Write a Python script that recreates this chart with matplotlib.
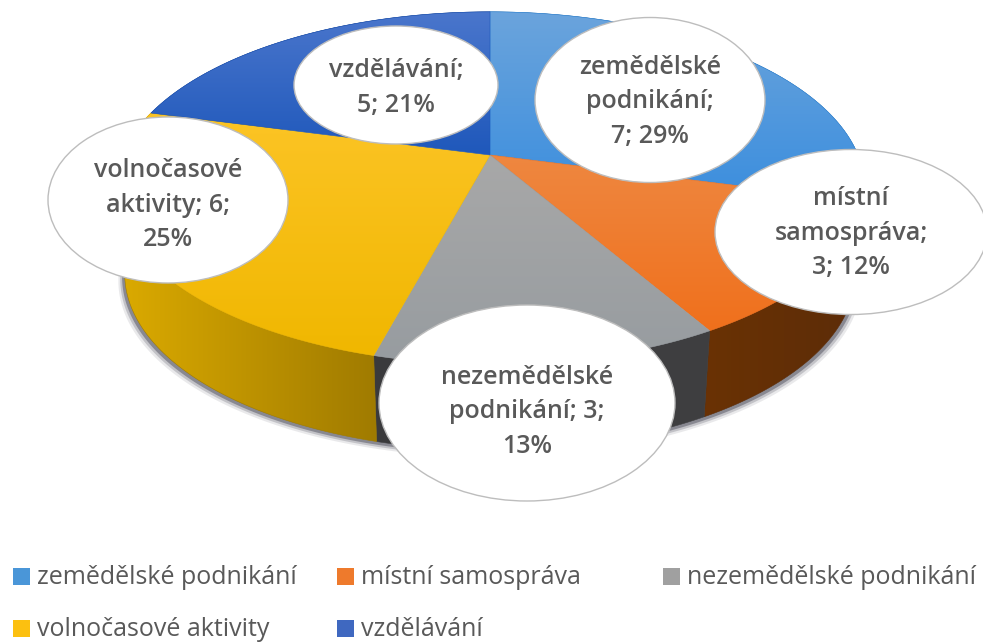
import numpy as np
import matplotlib
matplotlib.use('Agg')
from matplotlib import pyplot as plt
from matplotlib.patches import Ellipse, Polygon, Rectangle
from matplotlib.colors import LinearSegmentedColormap

categories = ['zemědělské podnikání', 'místní samospráva', 'nezemědělské podnikání',
              'volnočasové aktivity', 'vzdělávání']
values = [7, 3, 3, 6, 5]
percents = [29, 12, 13, 25, 21]
bubble_texts = ['zemědělské\npodnikání;\n7; 29%', 'místní\nsamospráva;\n3; 12%',
                'nezemědělské\npodnikání; 3;\n13%', 'volnočasové\naktivity; 6;\n25%',
                'vzdělávání;\n5; 21%']

# barvy: horni plocha (nahore, dole), bok (vlevo, vpravo), legenda
top_colors = [('#6ba4dc', '#3b8ede'), ('#ee8740', '#f0701c'), ('#a8a8a8', '#979ca0'),
              ('#fcc425', '#f0b700'), ('#4a76cc', '#1f58bb')]
side_colors = [('#1f5f96', '#1f5f96'), ('#6a3204', '#5c2c08'), ('#3a3a3c', '#3f3f41'),
               ('#dcab00', '#a07b00'), ('#1f3f80', '#1f3f80')]
legend_colors = ['#4a96d8', '#ee7a2c', '#a0a0a0', '#fcc010', '#3f68c0']

# poloha bublin v pixelech: stred x, stred y, sirka, vyska
bubbles = [(650, 100, 230, 165), (851, 232, 272, 165), (527, 403, 296, 196),
           (168, 200, 240, 166), (396, 85, 204, 118)]
text_y = [102, 233, 412, 205, 88]

legend_pos = [(13, 577), (337, 577), (663, 577), (13, 629), (337, 629)]

fig = plt.figure(figsize=(9.83, 6.43), dpi=100)
ax = fig.add_axes([0, 0, 1, 1])
ax.set_xlim(0, 983)
ax.set_ylim(643, 0)
ax.axis('off')

CX, CY, A, B, K = 490, 155, 368, 170, 0.1875
DEPTH, SCALE = 86, 0.975


def project(theta):
    # kruh -> perspektiva, theta od vrchu po smeru hodin
    x = np.sin(theta)
    y = np.cos(theta)
    w = 1 + K * y
    return CX + A * x / w, CY - B * y / w


def gradient(poly, c1, c2, horizontal=False, z=1):
    cmap = LinearSegmentedColormap.from_list('g', [c1, c2])
    xs, ys = poly[:, 0], poly[:, 1]
    box = (xs.min(), xs.max(), ys.max(), ys.min())
    data = np.linspace(0, 1, 128)
    data = data[None, :] if horizontal else data[:, None]
    im = ax.imshow(data, extent=box, cmap=cmap, aspect='auto', zorder=z,
                   interpolation='bilinear')
    patch = Polygon(poly, closed=True, transform=ax.transData, fc='none', ec='none')
    ax.add_patch(patch)
    im.set_clip_path(patch)
    # tenky obrys at nejsou mezi vysecemi bile spary
    ax.add_patch(Polygon(poly, closed=True, fc='none', ec=c2, lw=0.4, zorder=z))


angles = np.cumsum([0] + values) / sum(values) * 2 * np.pi

# stin pod spodnim okrajem
t = np.linspace(np.pi * 0.45, np.pi * 1.55, 200)
sx, sy = project(t)
for scale, off, al in [(0.992, 7, 0.12), (0.987, 5, 0.25), (0.982, 3, 0.5)]:
    px = CX + (sx - CX) * scale
    ax.fill(np.r_[px, px[::-1]], np.r_[sy + DEPTH + off, sy[::-1]], color='#50505c',
            alpha=al, lw=0, zorder=0.5)

# boky
for i in range(len(values)):
    t = np.linspace(angles[i], angles[i + 1], 100)
    x, y = project(t)
    bx = CX + (x - CX) * SCALE
    poly = np.c_[np.r_[x, bx[::-1]], np.r_[y, y[::-1] + DEPTH]]
    gradient(poly, side_colors[i][0], side_colors[i][1], horizontal=True, z=1)

# horni plocha
for i in range(len(values)):
    t = np.linspace(angles[i], angles[i + 1], 100)
    x, y = project(t)
    poly = np.c_[np.r_[CX, x], np.r_[CY, y]]
    gradient(poly, top_colors[i][0], top_colors[i][1], z=2)

# bubliny s popisky
for (bx, by, bw, bh), label, ty in zip(bubbles, bubble_texts, text_y):
    ax.add_patch(Ellipse((bx, by), bw, bh, fc='white', ec='#bdbdbd', lw=1.0, zorder=3))
    ax.text(bx, ty, label, ha='center', va='center', fontsize=18, family='Open Sans',
            weight='semibold', color='#595959', linespacing=1.52, zorder=4)

# legenda
for name, col, (lx, ly) in zip(categories, legend_colors, legend_pos):
    ax.add_patch(Rectangle((lx, ly - 9), 17, 17, fc=col, ec='none', zorder=3))
    ax.text(lx + 24, ly, name, ha='left', va='center', fontsize=18, family='Open Sans',
            color='#595959', zorder=4)

ax.set_xlim(0, 983)
ax.set_ylim(643, 0)
fig.savefig('out.png', dpi=100)
